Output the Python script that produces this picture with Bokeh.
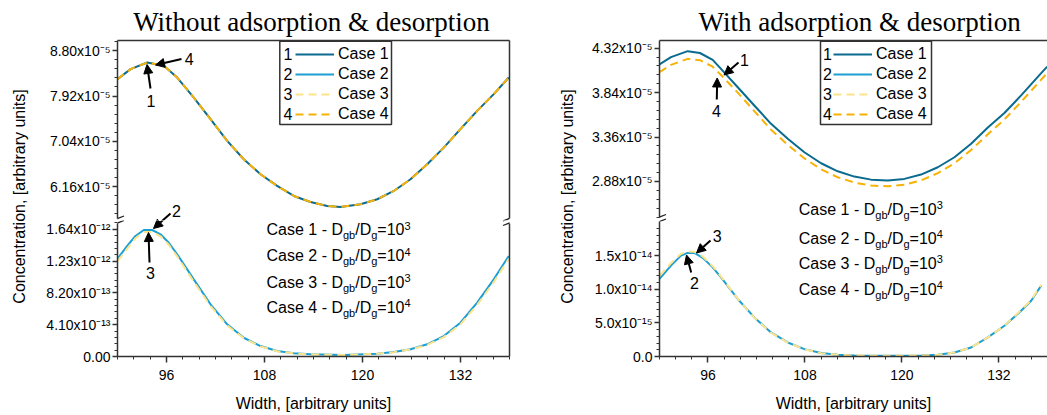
import math
import numpy as np
from bokeh.plotting import figure
from bokeh.models import (Range1d, LinearAxis, FixedTicker, CustomJSTickFormatter, Label,
                          Arrow, NormalHead, Legend, LegendItem)
from bokeh.layouts import row, column
from bokeh.embed import file_html
from bokeh.resources import INLINE

# ------------------------------------------------------------------ DATA
titles = ["Without adsorption & desorption", "With adsorption & desorption"]
case_names = ["Case 1", "Case 2", "Case 3", "Case 4"]
case_numbers = ["1", "2", "3", "4"]
ratio_exponents = ["3", "4", "3", "4"]
x_axis_title = "Width, [arbitrary units]"
y_axis_title = "Concentration, [arbitrary units]"

# Left panel - upper segment (cases 1 and 4), values in units of 1e-5
left_upper_x = [90, 91.6, 93.64, 95.67, 97.31, 99.34, 101.39, 103.43, 105.46, 107.51,
                109.55, 111.59, 113.63, 115.68, 117.3, 119.75, 121.8, 123.83, 125.88,
                127.92, 129.95, 131.99, 134.04, 136.07, 137.91]
left_case1_e5 = [8.249, 8.444, 8.572, 8.508, 8.280, 7.891, 7.470, 7.048, 6.691, 6.399,
                 6.172, 5.977, 5.860, 5.782, 5.763, 5.815, 5.913, 6.074, 6.302, 6.594,
                 6.917, 7.276, 7.632, 7.957, 8.280]
left_case4_e5 = [8.249, 8.444, 8.572, 8.508, 8.280, 7.891, 7.470, 7.048, 6.691, 6.399,
                 6.172, 5.977, 5.860, 5.782, 5.763, 5.815, 5.913, 6.074, 6.302, 6.594,
                 6.917, 7.276, 7.632, 7.957, 8.280]
# Left panel - lower segment (cases 2 and 3), values in units of 1e-12
left_lower_x = [90, 91.19, 92.2, 93.22, 94.25, 95.27, 96.28, 97.31, 99.34, 101.39, 103.43,
                105.46, 107.51, 109.55, 111.59, 113.63, 117.7, 121.8, 123.83, 125.88,
                127.92, 129.95, 131.99, 134.04, 136.07, 137.91]
left_case2_e12 = [1.261, 1.425, 1.554, 1.631, 1.631, 1.576, 1.467, 1.318, 0.995, 0.673,
                  0.415, 0.242, 0.135, 0.071, 0.041, 0.028, 0.019, 0.036, 0.058, 0.093,
                  0.157, 0.264, 0.436, 0.694, 0.995, 1.296]
left_case3_e12 = [1.23, 1.39, 1.525, 1.605, 1.605, 1.55, 1.44, 1.29, 0.965, 0.65,
                  0.40, 0.235, 0.13, 0.068, 0.040, 0.027, 0.019, 0.035, 0.056, 0.09,
                  0.15, 0.25, 0.415, 0.665, 0.96, 1.26]

# Right panel - upper segment (cases 1 and 4), units of 1e-5
right_upper_x = [90, 91.42, 93.49, 95.0, 96.58, 97.61, 99.68, 101.73, 103.8, 105.87, 107.92,
                 109.99, 112.05, 114.11, 116.18, 118.24, 120.30, 122.36, 124.43, 126.49,
                 128.55, 130.62, 132.67, 134.74, 137.22, 137.96]
right_case1_e5 = [4.144, 4.223, 4.288, 4.268, 4.193, 4.097, 3.898, 3.701, 3.503, 3.341, 3.196,
                  3.077, 2.990, 2.933, 2.900, 2.890, 2.908, 2.955, 3.034, 3.142, 3.287,
                  3.463, 3.62, 3.81, 4.05, 4.12]
right_case4_e5 = [4.061, 4.14, 4.205, 4.19, 4.12, 4.03, 3.84, 3.64, 3.44, 3.275, 3.13,
                  3.012, 2.925, 2.868, 2.836, 2.828, 2.845, 2.892, 2.970, 3.077, 3.220,
                  3.39, 3.55, 3.74, 3.98, 4.05]
# Right panel - lower segment (cases 2 and 3), units of 1e-14
right_lower_x = [90, 91.42, 92.66, 93.49, 94.31, 95.35, 96.58, 97.61, 99.68, 101.73, 103.8,
                 105.87, 107.92, 109.99, 112.05, 114.11, 118.24, 122.36, 124.43, 126.49,
                 128.55, 130.62, 132.67, 134.74, 135.98, 137.22]
right_case2_e14 = [1.155, 1.354, 1.503, 1.543, 1.543, 1.469, 1.328, 1.179, 0.857, 0.582,
                   0.358, 0.209, 0.110, 0.051, 0.025, 0.015, 0.010, 0.015, 0.025, 0.060,
                   0.134, 0.284, 0.458, 0.682, 0.83, 1.055]
right_case3_e14 = [1.20, 1.39, 1.53, 1.565, 1.56, 1.49, 1.345, 1.19, 0.86, 0.58,
                   0.355, 0.207, 0.108, 0.050, 0.025, 0.015, 0.010, 0.015, 0.025, 0.060,
                   0.134, 0.284, 0.46, 0.69, 0.84, 1.07]

# tick values
x_major_ticks = [96, 108, 120, 132]
left_upper_ticks_e5 = [6.16, 7.04, 7.92, 8.80]
left_lower_ticks_e12 = [0.0, 0.41, 0.82, 1.23, 1.64]
right_upper_ticks_e5 = [2.88, 3.36, 3.84, 4.32]
right_lower_ticks_e14 = [0.0, 0.5, 1.0, 1.5]

# ------------------------------------------------------------------ STYLE / LAYOUT
SANS = "Liberation Sans"
SERIF = "Liberation Serif"
AXC = "#333333"
COLORS = ["#0b6b8f", "#1c9fd3", "#fde38a", "#f8b206"]
DASHES = ["solid", "solid", "8 5", "8 5"]
PAGE_H = 415
TOP_FRAME = 40
BOTTOM_FRAME = 356
MID = 0.35          # 'middle' baseline offset (fraction of font size) above the alphabetic baseline

AW = {'C': .722, 'a': .556, 's': .5, 'e': .556, ' ': .278, '-': .333, 'D': .722,
      'g': .556, 'b': .556, '/': .278, '=': .584}
DESC = set("gpqy")


def text_w(s, size):
    return sum(AW.get(c, .556) for c in s) * size


def sci_formatter(dec, zero):
    return CustomJSTickFormatter(args=dict(dec=dec, zero=zero), code="""
        const sup = {'0':'\u2070','1':'\u00b9','2':'\u00b2','3':'\u00b3','4':'\u2074',
                     '5':'\u2075','6':'\u2076','7':'\u2077','8':'\u2078','9':'\u2079','-':'\u207b'};
        if (Math.abs(tick) < 1e-300) { return zero; }
        const e = Math.floor(Math.log10(Math.abs(tick)) + 1e-9);
        const m = tick / Math.pow(10, e);
        const es = String(e).split('').map(c => sup[c]).join('');
        return m.toFixed(dec) + 'x10' + es;
    """)


class Seg:
    def __init__(self, fig, fx, fy, xr, yr):
        self.fig, self.fx, self.fy, self.xr, self.yr = fig, fx, fy, xr, yr

    def dx(self, px):
        return self.xr.start + (px - self.fx[0]) * (self.xr.end - self.xr.start) / (self.fx[1] - self.fx[0])

    def dy(self, py):
        return self.yr.end - (py - self.fy[0]) * (self.yr.end - self.yr.start) / (self.fy[1] - self.fy[0])

    def hits(self, y0, y1):
        return y1 > self.fy[0] and y0 < self.fy[1]


def add_text(segs, px, py, text, size, align="left", font=SANS):
    """py = alphabetic baseline in page pixels"""
    top = py - 0.73 * size
    bot = py + (0.21 * size if any(c in DESC for c in text) else 0.0)
    for s in segs:
        if s.hits(top, bot):
            s.fig.add_layout(Label(x=s.dx(px), y=s.dy(py - MID * size), text=text, text_font=font,
                                   text_font_size=f"{size}px", text_align=align,
                                   text_baseline="middle", text_color="black"))


def add_arrow(segs, x0, y0, x1, y1, head=True, width=2.0, color="black"):
    for s in segs:
        if s.hits(min(y0, y1) - 6, max(y0, y1) + 6):
            end = NormalHead(size=9, fill_color=color, line_color=color, line_width=1) if head else None
            s.fig.add_layout(Arrow(x_start=s.dx(x0), y_start=s.dy(y0), x_end=s.dx(x1), y_end=s.dy(y1),
                                   line_color=color, line_width=width, end=end))


def style_axis(ax, ticks=True):
    ax.axis_line_color = AXC
    ax.axis_line_width = 1.5
    if ticks:
        ax.major_tick_line_color = AXC
        ax.major_tick_line_width = 1.5
        ax.minor_tick_line_color = AXC
        ax.minor_tick_line_width = 1
        ax.major_tick_in = 0
        ax.major_tick_out = 5
        ax.minor_tick_in = 0
        ax.minor_tick_out = 3
        ax.major_label_text_font = SANS
        ax.major_label_text_font_size = "14px"
        ax.major_label_text_color = "black"
        ax.major_label_standoff = 2
    else:
        ax.ticker = FixedTicker(ticks=[])
        ax.major_tick_line_color = None
        ax.minor_tick_line_color = None
        ax.major_tick_in = 0
        ax.major_tick_out = 0
        ax.minor_tick_in = 0
        ax.minor_tick_out = 0
        ax.major_label_standoff = 0
        ax.major_label_text_font_size = "0px"


def make_fig(width, height, xr, yr, mb, title=None):
    kw = dict(title=title) if title else {}
    p = figure(width=width, height=height, x_range=xr, y_range=yr, toolbar_location=None,
               output_backend="svg", x_axis_location=None, y_axis_location=None,
               min_border_left=mb[0], min_border_right=mb[1], min_border_top=mb[2],
               min_border_bottom=mb[3], outline_line_color=None,
               background_fill_color="white", border_fill_color="white", **kw)
    p.grid.visible = False
    return p


def build_panel(cfg):
    col_x0, col_w, fx0, fx1 = cfg["col_x0"], cfg["col_w"], cfg["fx0"], cfg["fx1"]
    B = cfg["boundary"]
    mbl, mbr = fx0 - col_x0, col_x0 + col_w - fx1
    xr = Range1d(90, cfg["xmax"])
    yr_u = Range1d(*cfg["up_range"])
    yr_l = Range1d(*cfg["lo_range"])
    up = make_fig(col_w, B, xr, yr_u, (mbl, mbr, TOP_FRAME, 0), title=cfg["title"])
    lo = make_fig(col_w, PAGE_H - B, xr, yr_l, (mbl, mbr, 0, PAGE_H - BOTTOM_FRAME))
    su = Seg(up, (fx0, fx1), (TOP_FRAME, B), xr, yr_u)
    sl = Seg(lo, (fx0, fx1), (B, BOTTOM_FRAME), xr, yr_l)
    segs = [su, sl]

    t = up.title
    t.text_font = SERIF
    t.text_font_size = "27px"
    t.text_font_style = "normal"
    t.text_color = "black"
    t.align = "left"
    t.standoff = 8
    t.offset = cfg["title_left"] - fx0

    # series: upper segment holds cases 1 & 4, lower segment holds cases 2 & 3
    rend_up = []
    for i, (xs, ys) in enumerate(cfg["series"]):
        rend_up.append(up.line(xs, ys, line_color=COLORS[i], line_width=2, line_dash=DASHES[i]))
        if i in (1, 2):
            lo.line(xs, ys, line_color=COLORS[i], line_width=2, line_dash=DASHES[i])

    gap0, gap1 = cfg["gap"]
    ya = LinearAxis(ticker=FixedTicker(ticks=cfg["up_ticks"], minor_ticks=cfg["up_minor"]),
                    formatter=sci_formatter(cfg["dec_up"], cfg["zero"]),
                    bounds=(su.dy(gap0), yr_u.end))
    style_axis(ya)
    up.add_layout(ya, "left")
    ta = LinearAxis()
    style_axis(ta, ticks=False)
    up.add_layout(ta, "above")

    yl = LinearAxis(ticker=FixedTicker(ticks=cfg["lo_ticks"], minor_ticks=cfg["lo_minor"]),
                    formatter=sci_formatter(cfg["dec_lo"], cfg["zero"]),
                    bounds=(yr_l.start, sl.dy(gap1)))
    style_axis(yl)
    lo.add_layout(yl, "left")
    xa = LinearAxis(ticker=FixedTicker(ticks=x_major_ticks, minor_ticks=list(range(90, 140, 2))),
                    axis_label=x_axis_title)
    style_axis(xa)
    xa.major_tick_out = 6
    xa.major_label_standoff = 7
    xa.axis_label_text_font = SANS
    xa.axis_label_text_font_size = "16px"
    xa.axis_label_text_font_style = "normal"
    xa.axis_label_text_color = "black"
    xa.axis_label_standoff = 12
    lo.add_layout(xa, "below")
    if cfg["right_border"]:
        for f, b in ((up, (su.dy(gap0), yr_u.end)), (lo, (yr_l.start, sl.dy(gap1)))):
            ra = LinearAxis(bounds=b)
            style_axis(ra, ticks=False)
            f.add_layout(ra, "right")

    # legend frame + legend + numbers
    bx0, bx1 = cfg["legend_box"]
    up.quad(left=[su.dx(bx0)], right=[su.dx(bx1)], top=[su.dy(40.7)], bottom=[su.dy(124)],
            fill_color="white", line_color=AXC, line_width=1.5)
    legend = Legend(items=[LegendItem(label=case_names[i], renderers=[rend_up[i]]) for i in range(4)],
                    location=(cfg["glyph_x"] - fx0, B - 124), padding=0, spacing=0, margin=0,
                    border_line_color=None, background_fill_alpha=0, label_text_font=SANS,
                    label_text_font_size="16px", label_text_color="black", glyph_width=39,
                    glyph_height=20, label_height=20, label_standoff=4)
    up.add_layout(legend, "center")
    for i in range(4):
        add_text([su], cfg["number_x"], 53 + 20 * i + 5.7, case_numbers[i], 16)

    # break marks
    for ax_x in cfg["break_x"]:
        for yb in (gap0, gap1):
            add_arrow(segs, ax_x - 6.5, yb + 2.5, ax_x + 6.5, yb - 2.5, head=False, width=1.3,
                      color="#222222")

    # arrows with case numbers
    for (num, tail, tip, lab) in cfg["arrows"]:
        add_arrow(segs, tail[0], tail[1], tip[0], tip[1])
        add_text(segs, lab[0], lab[1], num, 16, align="center")

    # case description block
    tx, baselines = cfg["block"]
    for i in range(4):
        parts = [(f"{case_names[i]} - D", 16, 0), ("gb", 11, -3.6), ("/D", 16, 0), ("g", 11, -3.6),
                 ("=10", 16, 0), (ratio_exponents[i], 11, 6)]
        x = tx
        for s, size, dy in parts:
            add_text(segs, x, baselines[i] - dy, s, size)
            x += text_w(s, size)
    return column(up, lo)


def label_fig(width, base_x, center_y):
    p = figure(width=width, height=PAGE_H, x_range=Range1d(0, width), y_range=Range1d(0, PAGE_H),
               toolbar_location=None, output_backend="svg", x_axis_location=None,
               y_axis_location=None, min_border_left=0, min_border_right=0, min_border_top=0,
               min_border_bottom=0, outline_line_color=None, border_fill_color="white")
    p.grid.visible = False
    p.add_layout(Label(x=base_x - MID * 16, y=PAGE_H - center_y, text=y_axis_title, angle=math.pi / 2,
                       text_align="center", text_baseline="middle", text_font=SANS,
                       text_font_size="16px", text_color="black"))
    return p


e5 = lambda a: [v * 1e-5 for v in a]
e12 = lambda a: [v * 1e-12 for v in a]
e14 = lambda a: [v * 1e-14 for v in a]

left_cfg = dict(
    col_x0=34, col_w=505, fx0=117, fx1=509, xmax=138.0, boundary=220, gap=(218.0, 222.5),
    up_range=(5.5e-5, 9.0e-5), lo_range=(0.0, 1.7535e-12),
    series=[(left_upper_x, e5(left_case1_e5)), (left_lower_x, e12(left_case2_e12)),
            (left_lower_x, e12(left_case3_e12)), (left_upper_x, e5(left_case4_e5))],
    up_ticks=e5(left_upper_ticks_e5), up_minor=list(np.arange(5.632, 9.0, 0.176) * 1e-5),
    lo_ticks=e12(left_lower_ticks_e12), lo_minor=list(np.arange(0, 1.75, 0.082) * 1e-12),
    dec_up=2, dec_lo=2, zero="0.00", right_border=True, title=titles[0], title_left=132.7,
    legend_box=(279.3, 391), glyph_x=295, number_x=283, break_x=[117, 509],
    arrows=[("1", (150, 88), (146.5, 64), (150.5, 105.7)),
            ("4", (181, 58.5), (155, 64.5), (188.7, 63.7)),
            ("2", (170, 213), (153, 228), (176, 216.0)),
            ("3", (149, 262), (148, 232), (150, 277.7))],
    block=(266, [235, 261, 287.3, 312.7]),
)
right_cfg = dict(
    col_x0=579, col_w=468, fx0=659, fx1=1047, xmax=90 + 388 / 8.083, boundary=221,
    gap=(216.5, 221.0),
    up_range=(2.4478e-5, 4.403e-5), lo_range=(0.0, 2.011e-14),
    series=[(right_upper_x, e5(right_case1_e5)), (right_lower_x, e14(right_case2_e14)),
            (right_lower_x, e14(right_case3_e14)), (right_upper_x, e5(right_case4_e5))],
    up_ticks=e5(right_upper_ticks_e5), up_minor=list(np.arange(2.496, 4.4, 0.096) * 1e-5),
    lo_ticks=e14(right_lower_ticks_e14), lo_minor=list(np.arange(0, 2.0, 0.1) * 1e-14),
    dec_up=2, dec_lo=1, zero="0.0", right_border=False, title=titles[1], title_left=698,
    legend_box=(820, 931), glyph_x=833, number_x=822.5, break_x=[659],
    arrows=[("1", (738, 62), (723.5, 74.5), (744, 65)),
            ("4", (716.3, 99), (716.7, 77.5), (716, 115.7)),
            ("3", (710, 240), (696, 252.5), (716.7, 240.7)),
            ("2", (690.7, 272), (686, 254.5), (694, 288.4))],
    block=(798.3, [214.5, 243.3, 268.3, 294.3]),
)

layout = row(label_fig(34, 25, 196), build_panel(left_cfg), label_fig(40, 34, 196),
             build_panel(right_cfg))
open("out.html", "w").write(file_html(layout, INLINE))
